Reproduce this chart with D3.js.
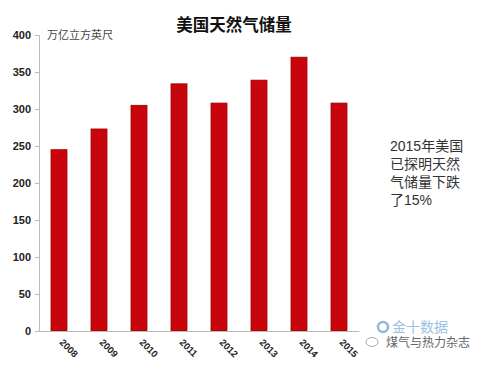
<!DOCTYPE html>
<html><head><meta charset="utf-8">
<script src="https://cdn.jsdelivr.net/npm/d3@7"></script>
<style>body{margin:0;background:#fff}svg{display:block}</style>
</head><body>
<script>
const years = ["2008","2009","2010","2011","2012","2013","2014","2015"];
const reserves = [245, 273, 305, 334, 308, 339, 370, 308];
const yTicks = [0, 50, 100, 150, 200, 250, 300, 350, 400];
const title = "美国天然气储量";
const unit = "万亿立方英尺";
const note = ["2015年美国", "已探明天然", "气储量下跌", "了15%"];

const W = 477, H = 375;
const svg = d3.select("body").append("svg").attr("width", W).attr("height", H);
const font = "Arial, 'Liberation Sans', 'Noto Sans CJK SC', sans-serif";

const x = d3.scaleBand().domain(years).range([39, 359]).paddingInner(0.6).paddingOuter(0.3);
const y = d3.scaleLinear().domain([0, 400]).range([331, 35]);

// y axis
const ya = svg.append("g").attr("transform", "translate(39,0)")
  .call(d3.axisLeft(y).tickValues(yTicks).tickSize(4).tickPadding(4));
ya.select(".domain").attr("stroke", "#bbb");
ya.selectAll(".tick line").attr("stroke", "#bbb");
ya.selectAll(".tick text").attr("font-family", font).attr("font-size", 11)
  .attr("font-weight", "bold").attr("fill", "#222");

// bars
svg.append("g").selectAll("rect").data(years).join("rect")
  .attr("x", d => x(d)).attr("width", x.bandwidth())
  .attr("y", (d, i) => y(reserves[i])).attr("height", (d, i) => y(0) - y(reserves[i]))
  .attr("fill", "#c8050c").attr("stroke", "#a00000").attr("stroke-width", 0.8);

// x axis
const xa = svg.append("g").attr("transform", "translate(0,331)")
  .call(d3.axisBottom(x).tickSize(0).tickPadding(0).tickSizeOuter(0));
xa.select(".domain").attr("stroke", "#bbb");
xa.selectAll(".tick text").attr("font-family", font).attr("font-size", 9.5)
  .attr("font-weight", "bold").attr("fill", "#222")
  .attr("text-anchor", "start").attr("dy", 0)
  .attr("transform", "translate(0,12) rotate(45)");

// title
svg.append("text").attr("x", 234).attr("y", 31).attr("text-anchor", "middle")
  .attr("font-family", font).attr("font-size", 16.5).attr("font-weight", "bold")
  .attr("fill", "#111").text(title);

// unit
svg.append("text").attr("x", 47).attr("y", 39).attr("font-family", font)
  .attr("font-size", 11).attr("fill", "#444").text(unit);

// note
svg.append("g").selectAll("text").data(note).join("text")
  .attr("x", 390).attr("y", (d, i) => 151 + i * 18)
  .attr("font-family", font).attr("font-size", 14).attr("fill", "#333").text(d => d);

// watermark
svg.append("circle").attr("cx", 383).attr("cy", 327).attr("r", 5)
  .attr("fill", "none").attr("stroke", "#8fb8dc").attr("stroke-width", 2.5);
svg.append("text").attr("x", 392).attr("y", 332).attr("font-family", font)
  .attr("font-size", 14).attr("fill", "#9cc2e2").text("金十数据");
svg.append("text").attr("x", 386).attr("y", 347).attr("font-family", font)
  .attr("font-size", 12).attr("fill", "#666").text("煤气与热力杂志");
svg.append("ellipse").attr("cx", 372).attr("cy", 342).attr("rx", 6).attr("ry", 4.5)
  .attr("fill", "none").attr("stroke", "#aaa").attr("stroke-width", 1);
</script>
</body></html>
